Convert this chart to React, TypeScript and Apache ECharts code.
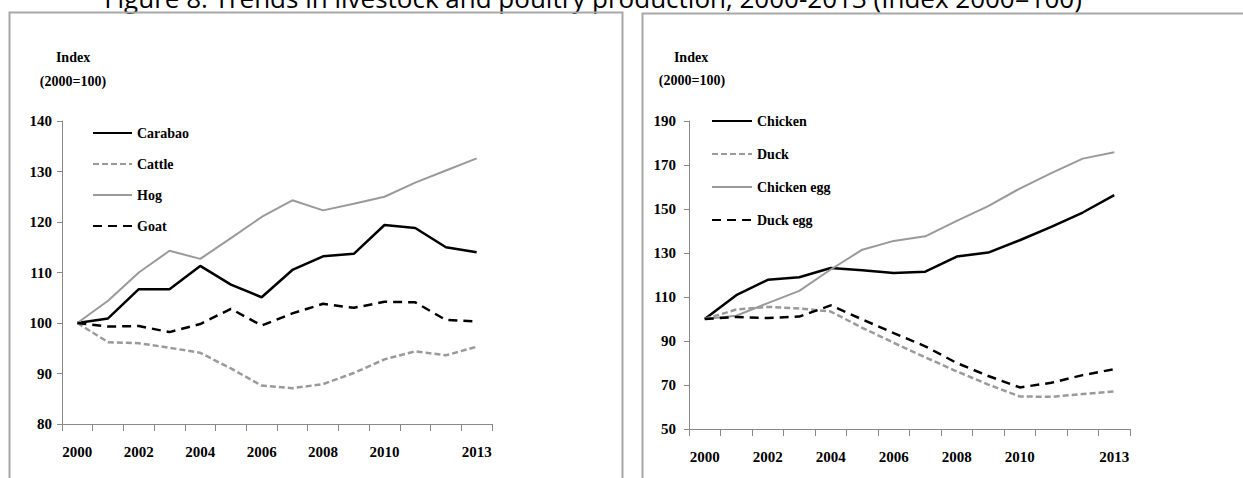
import React, { useEffect, useRef } from "react";
import * as echarts from "echarts";

const years = ["2000","2001","2002","2003","2004","2005","2006","2007","2008","2009","2010","2011","2012","2013"];
const shownYearIdx = [0, 2, 4, 6, 8, 10, 13];

// Livestock (left panel)
const carabao = [100, 100.9, 106.7, 106.7, 111.3, 107.6, 105.1, 110.5, 113.2, 113.7, 119.4, 118.8, 115.0, 114.0];
const cattle = [100, 96.2, 96.0, 95.1, 94.1, 91.0, 87.6, 87.1, 87.9, 90.1, 92.8, 94.4, 93.6, 95.3];
const hog = [100, 104.4, 110.0, 114.3, 112.7, 116.8, 121.0, 124.3, 122.3, 123.6, 125.0, 127.8, 130.2, 132.6];
const goat = [100, 99.3, 99.4, 98.2, 99.8, 102.8, 99.5, 101.9, 103.8, 103.0, 104.2, 104.1, 100.6, 100.3];

// Poultry (right panel)
const chicken = [100, 110.8, 117.8, 119.0, 123.2, 122.2, 120.9, 121.5, 128.4, 130.2, 135.8, 141.9, 148.4, 156.3];
const duck = [100, 104.3, 105.5, 104.8, 103.4, 96.0, 89.2, 82.6, 76.2, 70.2, 64.8, 64.6, 65.9, 67.1];
const chickenEgg = [100, 101.5, 107.2, 112.8, 122.5, 131.5, 135.5, 137.6, 144.6, 151.3, 159.3, 166.3, 172.9, 175.8];
const duckEgg = [100, 100.9, 100.4, 101.1, 106.2, 99.8, 93.6, 87.6, 80.0, 74.1, 68.9, 71.0, 74.5, 77.2];

const titleText = "Figure 8. Trends in livestock and poultry production, 2000-2013 (Index 2000=100)";
const yTitle1 = "Index";
const yTitle2 = "(2000=100)";

const SERIF = "'Liberation Serif', 'Times New Roman', serif";
const AXIS_GRAY = "#888888";
const LINE_GRAY = "#9a9a9a";

function xAxisFor(gridIndex: number) {
  return {
    type: "category",
    gridIndex,
    data: years,
    boundaryGap: true,
    axisLine: { lineStyle: { color: AXIS_GRAY, width: 1 } },
    axisTick: { show: true, interval: 0, length: 7, inside: false, lineStyle: { color: AXIS_GRAY } },
    axisLabel: {
      interval: (idx: number) => shownYearIdx.includes(idx),
      margin: 20,
      color: "#000",
      fontFamily: SERIF,
      fontWeight: "bold",
      fontSize: 15,
    },
    splitLine: { show: false },
  };
}

function yAxisFor(gridIndex: number, min: number, max: number, interval: number, margin: number) {
  return {
    type: "value",
    gridIndex,
    min,
    max,
    interval,
    axisLine: { show: true, lineStyle: { color: AXIS_GRAY, width: 1 } },
    axisTick: { show: true, length: 5, lineStyle: { color: AXIS_GRAY } },
    axisLabel: { margin, color: "#000", fontFamily: SERIF, fontWeight: "bold", fontSize: 15 },
    splitLine: { show: false },
  };
}

function lineSeries(name: string, data: number[], idx: number, color: string, width: number, type: any) {
  return {
    name,
    type: "line",
    xAxisIndex: idx,
    yAxisIndex: idx,
    data,
    symbol: "none",
    showSymbol: false,
    lineStyle: { color, width, type },
    itemStyle: { color },
  };
}

export default function App() {
  const ref = useRef<HTMLDivElement>(null);
  useEffect(() => {
    if (!ref.current) return;
    const chart = echarts.init(ref.current, undefined, { renderer: "svg" });
    const legendText = { color: "#000", fontFamily: SERIF, fontWeight: "bold", fontSize: 14, lineHeight: 14 };
    chart.setOption({
      animation: false,
      backgroundColor: "#ffffff",
      grid: [
        { left: 62, top: 121, width: 430, height: 303 },
        { left: 689, top: 121, width: 441, height: 308 },
      ],
      xAxis: [xAxisFor(0), xAxisFor(1)],
      yAxis: [yAxisFor(0, 80, 140, 10, 10), yAxisFor(1, 50, 190, 20, 13)],
      legend: [
        {
          orient: "vertical",
          left: 87,
          top: 121,
          itemWidth: 39,
          itemHeight: 14,
          itemGap: 17,
          itemStyle: { opacity: 0 },
          textStyle: legendText,
          data: ["Carabao", "Cattle", "Hog", "Goat"],
          selectedMode: false,
        },
        {
          orient: "vertical",
          left: 706,
          top: 109,
          itemWidth: 40,
          itemHeight: 14,
          itemGap: 19,
          itemStyle: { opacity: 0 },
          textStyle: legendText,
          data: ["Chicken", "Duck", "Chicken egg", "Duck egg"],
          selectedMode: false,
        },
      ],
      graphic: [
        {
          type: "text",
          x: 593,
          y: -2,
          style: {
            text: titleText,
            fontFamily: "'Open Sans', sans-serif",
            fontSize: 26,
            fill: "#000",
            align: "center",
            verticalAlign: "middle",
          },
        },
        {
          type: "rect",
          shape: { x: 9.5, y: 12.5, width: 613, height: 500 },
          style: { fill: "none", stroke: "#a8a8a8", lineWidth: 2 },
        },
        {
          type: "rect",
          shape: { x: 642.5, y: 13.5, width: 700, height: 500 },
          style: { fill: "none", stroke: "#a8a8a8", lineWidth: 2 },
        },
        {
          type: "text", x: 73, y: 57,
          style: { text: yTitle1, fontFamily: SERIF, fontWeight: "bold", fontSize: 14, fill: "#000", align: "center", verticalAlign: "middle" },
        },
        {
          type: "text", x: 73, y: 81,
          style: { text: yTitle2, fontFamily: SERIF, fontWeight: "bold", fontSize: 14, fill: "#000", align: "center", verticalAlign: "middle" },
        },
        {
          type: "text", x: 691, y: 57,
          style: { text: yTitle1, fontFamily: SERIF, fontWeight: "bold", fontSize: 14, fill: "#000", align: "center", verticalAlign: "middle" },
        },
        {
          type: "text", x: 692, y: 80,
          style: { text: yTitle2, fontFamily: SERIF, fontWeight: "bold", fontSize: 14, fill: "#000", align: "center", verticalAlign: "middle" },
        },
      ],
      series: [
        lineSeries("Carabao", carabao, 0, "#000000", 2.5, "solid"),
        lineSeries("Cattle", cattle, 0, LINE_GRAY, 2.5, [6, 3]),
        lineSeries("Hog", hog, 0, LINE_GRAY, 2, "solid"),
        lineSeries("Goat", goat, 0, "#000000", 2.5, [9, 6]),
        lineSeries("Chicken", chicken, 1, "#000000", 2.5, "solid"),
        lineSeries("Duck", duck, 1, LINE_GRAY, 2.5, [6, 3]),
        lineSeries("Chicken egg", chickenEgg, 1, LINE_GRAY, 2, "solid"),
        lineSeries("Duck egg", duckEgg, 1, "#000000", 2.5, [9, 6]),
      ],
    });
    return () => chart.dispose();
  }, []);
  return <div ref={ref} style={{ position: "absolute", left: 0, top: 0, width: 1243, height: 478 }} />;
}
